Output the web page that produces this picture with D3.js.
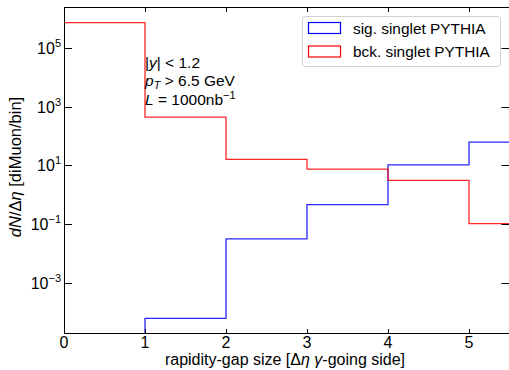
<!DOCTYPE html>
<html>
<head>
<meta charset="utf-8">
<script src="https://cdn.jsdelivr.net/npm/d3@7"></script>
<style>
  body { margin: 0; background: #fff; }
  svg { font-family: "Liberation Sans", Arial, sans-serif; }
</style>
</head>
<body>
<div id="chart"></div>
<script>
// bin edges in delta-eta and the two step series
var binEdges = [0, 1, 2, 3, 4, 5, 6];
var sigValues = [0, 6.4e-5, 0.032, 0.47, 10.5, 62];
var bckValues = [7.1e5, 435, 16, 7.5, 3.1, 0.105];
var xTicks = [0, 1, 2, 3, 4, 5];
var yTickExps = [-3, -1, 1, 3, 5];
var seriesNames = ['sig. singlet PYTHIA', 'bck. singlet PYTHIA'];
var seriesColors = ['#0000ff', '#ff0000'];

var width = 509, height = 370;
var margin = {top: 7, left: 64, bottom: 37};
var plotBottom = height - margin.bottom;
var plotRight = 509.5;

var svg = d3.select('#chart').append('svg')
    .attr('width', width)
    .attr('height', height);

var xScale = d3.scaleLinear().domain([0, 5.5]).range([margin.left, plotRight]);
var yScale = d3.scaleLog().domain([Math.pow(10, -4.69), Math.pow(10, 6.38)]).range([plotBottom, margin.top]);

svg.append('clipPath').attr('id', 'clip')
  .append('rect')
    .attr('x', margin.left).attr('y', margin.top)
    .attr('width', plotRight - margin.left).attr('height', plotBottom - margin.top);

// step line, starting and ending below the axis like a histtype=step
function stepPath(values) {
    var lo = yScale.domain()[0] / 100;
    var pts = [[binEdges[0], lo]];
    values.forEach(function(v, i) {
        var val = Math.max(v, lo);
        pts.push([binEdges[i], val]);
        pts.push([binEdges[i + 1], val]);
    });
    pts.push([binEdges[values.length], lo]);
    return d3.line()
        .x(function(d) { return xScale(d[0]); })
        .y(function(d) { return yScale(d[1]); })(pts);
}

var g = svg.append('g').attr('clip-path', 'url(#clip)');
[sigValues, bckValues].forEach(function(vals, i) {
    g.append('path')
        .attr('d', stepPath(vals))
        .attr('fill', 'none')
        .attr('stroke', seriesColors[i])
        .attr('stroke-opacity', 0.85)
        .attr('stroke-width', 1.3);
});

// spines
svg.append('line').attr('x1', margin.left).attr('x2', width)
    .attr('y1', margin.top + 0.5).attr('y2', margin.top + 0.5).attr('stroke', '#000');
svg.append('line').attr('x1', margin.left).attr('x2', width)
    .attr('y1', plotBottom + 0.5).attr('y2', plotBottom + 0.5).attr('stroke', '#000');
svg.append('line').attr('x1', margin.left + 0.5).attr('x2', margin.left + 0.5)
    .attr('y1', margin.top).attr('y2', plotBottom).attr('stroke', '#000');

// x ticks, pointing inward on bottom and top
var ticks = svg.append('g').attr('stroke', '#000').attr('stroke-width', 1);
xTicks.forEach(function(t) {
    var x = Math.round(xScale(t)) + 0.5;
    ticks.append('line').attr('x1', x).attr('x2', x).attr('y1', plotBottom).attr('y2', plotBottom - 4);
    ticks.append('line').attr('x1', x).attr('x2', x).attr('y1', margin.top).attr('y2', margin.top + 5);
    svg.append('text')
        .attr('x', xScale(t)).attr('y', 348)
        .attr('text-anchor', 'middle')
        .attr('font-size', 16)
        .text(t);
});

// y ticks, left and right, with 10^n labels
yTickExps.forEach(function(e) {
    var y = Math.round(yScale(Math.pow(10, e))) + 0.5;
    ticks.append('line').attr('x1', margin.left).attr('x2', margin.left + 8).attr('y1', y).attr('y2', y);
    ticks.append('line').attr('x1', plotRight).attr('x2', plotRight - 8).attr('y1', y).attr('y2', y);
    var t = svg.append('text')
        .attr('x', margin.left - 3)
        .attr('y', y + 5.5)
        .attr('text-anchor', 'end')
        .attr('font-size', 16);
    t.append('tspan').text('10');
    t.append('tspan').attr('dy', -7).attr('font-size', 11)
        .text(e < 0 ? '\u2212' + (-e) : String(e));
});

// axis titles
svg.append('text')
    .attr('x', 285)
    .attr('y', 365)
    .attr('text-anchor', 'middle')
    .attr('font-size', 16)
    .html('rapidity-gap size [\u0394<tspan font-style="italic">\u03b7</tspan> <tspan font-style="italic">\u03b3</tspan>-going side]');

svg.append('text')
    .attr('transform', 'translate(21,167) rotate(-90)')
    .attr('text-anchor', 'middle')
    .attr('font-size', 16.5)
    .html('<tspan font-style="italic">dN</tspan>/\u0394<tspan font-style="italic">\u03b7</tspan> [diMuon/bin]');

// annotation
var ann = svg.append('g').attr('font-size', 15.5);
ann.append('text').attr('x', 145).attr('y', 68)
    .html('|<tspan font-style="italic">y</tspan>| &lt; 1.2');
ann.append('text').attr('x', 145).attr('y', 86)
    .html('<tspan font-style="italic">p</tspan><tspan font-style="italic" font-size="11" dy="3">T</tspan><tspan dy="-3"> &gt; 6.5 GeV</tspan>');
ann.append('text').attr('x', 145).attr('y', 105)
    .html('<tspan font-style="italic">L</tspan> = 1000nb<tspan font-size="11" dy="-6">\u22121</tspan>');

// legend
var leg = svg.append('g');
leg.append('rect')
    .attr('x', 302.5).attr('y', 16.5).attr('width', 198).attr('height', 50)
    .attr('rx', 3).attr('fill', '#fff').attr('fill-opacity', 0.8)
    .attr('stroke', '#d0d0d0');
seriesNames.forEach(function(name, i) {
    leg.append('rect')
        .attr('x', 308.5).attr('y', 22.5 + i * 23.5).attr('width', 32).attr('height', 11)
        .attr('fill', 'none').attr('stroke', seriesColors[i]).attr('stroke-width', 1.2);
    leg.append('text')
        .attr('x', 353).attr('y', 33.5 + i * 23.5)
        .attr('font-size', 15.4)
        .text(name);
});
</script>
</body>
</html>
